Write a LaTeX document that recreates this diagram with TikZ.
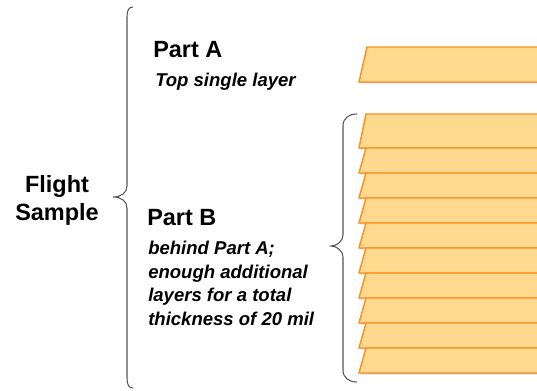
\documentclass[tikz,border=0pt]{standalone}
\usepackage{fontspec}
\setmainfont{Liberation Sans}
\definecolor{layerfill}{RGB}{255,217,142}
\definecolor{layeredge}{RGB}{248,146,32}
\definecolor{bracegray}{RGB}{85,85,85}
\begin{document}
\begin{tikzpicture}[x=0.75pt,y=-0.75pt,
  heading/.style={font=\bfseries\fontsize{17.6pt}{21pt}\selectfont, inner sep=0pt, anchor=base west},
  note/.style={font=\bfseries\itshape\fontsize{13.9pt}{17.6pt}\selectfont, inner sep=0pt, anchor=base west},
  layer/.style={fill=layerfill, draw=layeredge, line width=1.1pt, line join=miter},
  layershadow/.style={fill=black!22, draw=none, shift={(0.6,1.4)}},
  brace/.style={draw=bracegray, line width=0.8pt}]
\useasboundingbox (0,0) rectangle (537,391);
\clip (0,0) rectangle (537,391);

% Part A: single top sheet
\fill[layershadow] (367,47) -- (560,47) -- (560,82) -- (359,82) -- cycle;
\path[layer] (367,47) -- (560,47) -- (560,82) -- (359,82) -- cycle;

% Part B: stack of sheets, each with its own soft shadow
\foreach \t/\b in {114/148,148/173,173/198,198/223,223/248,248/273,273/298,298/323,323/348,348/373}
  \fill[layershadow] (366,\t) -- (560,\t) -- (560,\b) -- (359,\b) -- cycle;
\foreach \t/\b in {114/148,148/173,173/198,198/223,223/248,248/273,273/298,298/323,323/348,348/373}
  \path[layer] (366,\t) -- (560,\t) -- (560,\b) -- (359,\b) -- cycle;

% Braces
\draw[brace] (133,7) .. controls (129,7) and (127,10) .. (127,17)
  -- (127,186) .. controls (127,193) and (121,197) .. (113,197)
  .. controls (121,197) and (127,201) .. (127,208)
  -- (127,378) .. controls (127,385) and (129,388) .. (133,388);
\draw[brace] (357,114) .. controls (349,114) and (343,118) .. (343,126)
  -- (343,235) .. controls (343,241) and (337,246) .. (331,246)
  .. controls (337,246) and (343,251) .. (343,257)
  -- (343,370) .. controls (343,378) and (349,382) .. (357,382);

% Labels
\node[heading, anchor=base] (flight) at (57,193) {Flight};
\node[heading, anchor=base] (sample) at (57,221) {Sample};
\node[heading] (parta) at (153,58) {Part A};
\node[note] (partanote) at (155,87) {Top single layer};
\node[heading] (partb) at (147,226) {Part B};
\node[note] (partbnote1) at (148,255) {behind Part A;};
\node[note] (partbnote2) at (148,279) {enough additional};
\node[note] (partbnote3) at (148,302) {layers for a total};
\node[note] (partbnote4) at (148,326) {thickness of 20 mil};
\end{tikzpicture}
\end{document}
